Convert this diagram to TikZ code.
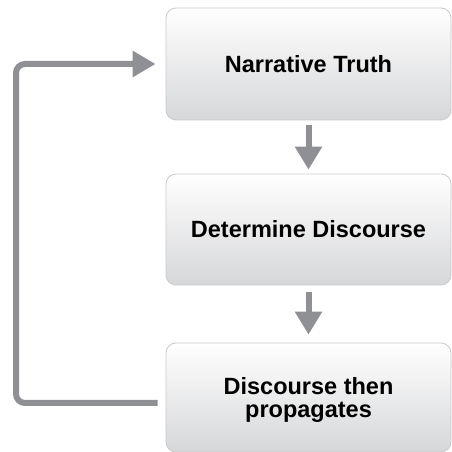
\documentclass[tikz,border=0pt]{standalone}
\usepackage{fontspec}
\setmainfont{Liberation Sans}
\usetikzlibrary{arrows.meta,calc}
\definecolor{arrowgray}{HTML}{8F9094}
\definecolor{boxborder}{HTML}{C9CACC}
\definecolor{boxbottom}{HTML}{D6D7D9}
\tikzset{
  stepbox/.style={draw=boxborder, line width=0.8pt, rounded corners=10pt,
    top color=white, bottom color=boxbottom, minimum width=285pt,
    align=center, inner sep=0pt,
    font=\fontsize{23.5}{23}\selectfont\bfseries},
  flowarrow/.style={draw=arrowgray, line width=6pt,
    -{Triangle[length=23pt,width=26pt]}},
}
\begin{document}
\begin{tikzpicture}[x=1pt,y=1pt]
\useasboundingbox (0,0) rectangle (452,452);
\node[stepbox, minimum height=112pt] (n1) at (308.5,388) {Narrative Truth};
\node[stepbox, minimum height=111pt] (n2) at (308.5,222.5) {Determine Discourse};
\node[stepbox, minimum height=109pt] (n3) at (308.5,54.5) {Discourse then\\\smash{propagates}};
\draw[flowarrow, shorten <=5pt, shorten >=4pt] (n1.south) -- (n2.north);
\draw[flowarrow, shorten <=7pt, shorten >=8pt] (n2.south) -- (n3.north);
\coordinate (s) at ([yshift=-5.5pt]n3.west);
\coordinate (lx) at (16,0);
\draw[flowarrow, rounded corners=9pt, shorten <=8pt, shorten >=10pt, -{Triangle[length=23pt,width=25pt]}]
  (s) -- (s -| lx) -- (lx |- n1.west) -- (n1.west);
\end{tikzpicture}
\end{document}
